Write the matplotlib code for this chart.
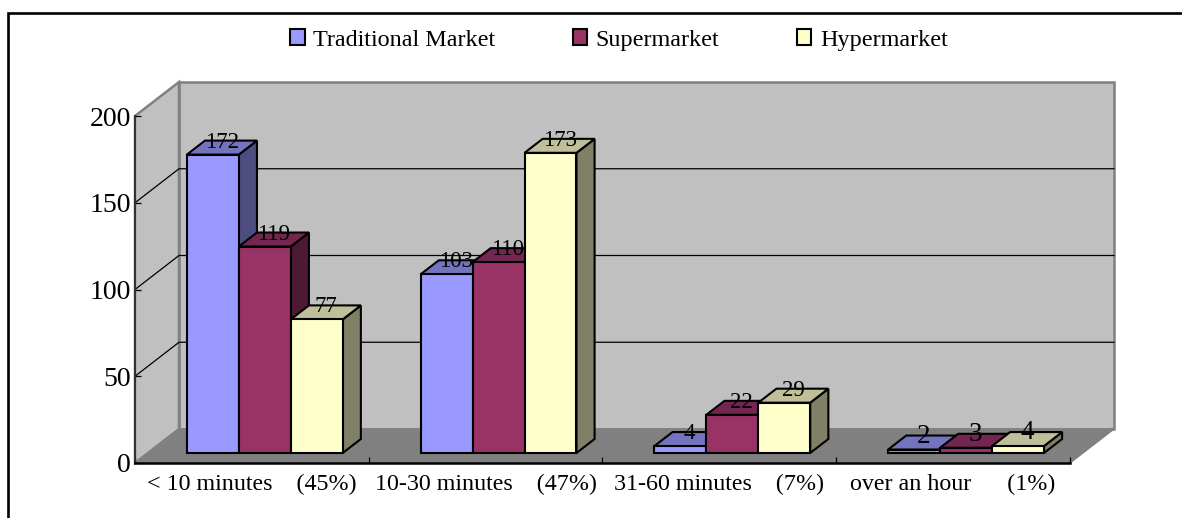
import matplotlib
matplotlib.use("Agg")
import matplotlib.pyplot as plt
from matplotlib.lines import Line2D
from matplotlib.patches import Patch, Polygon

categories = ["< 10 minutes    (45%)", "10-30 minutes    (47%)",
              "31-60 minutes    (7%)", "over an hour      (1%)"]
series_names = ["Traditional Market", "Supermarket", "Hypermarket"]
traditional = [172, 103, 4, 2]
supermarket = [119, 110, 22, 3]
hypermarket = [77, 173, 29, 4]
y_ticks = [0, 50, 100, 150, 200]

front_colors = ["#9999FF", "#993366", "#FFFFCC"]
top_colors = ["#7373BF", "#732650", "#BFBF99"]
side_colors = ["#4D4D80", "#4D1A33", "#808066"]

W, H = 1182, 518
plt.rcParams['font.family'] = ['Liberation Serif', 'DejaVu Serif']

fig = plt.figure(figsize=(W / 100, H / 100), dpi=100)
ax = fig.add_axes([135 / W, 1 - 463 / H, 935 / W, 347 / H])
ax.patch.set_visible(False)
ax.set_xlim(0, 4)
ax.set_ylim(0, 200)

# depth of the 3d box, in data units
DX = 44 / 233.75
DY = 34 / 347 * 200


def proj(x, v, d):
    return (x + d * DX, v + d * DY)


def face(pts, color, z, lw=1.5, edge='black'):
    ax.add_patch(Polygon(pts, closed=True, facecolor=color, edgecolor=edge,
                         linewidth=lw, zorder=z, clip_on=False, joinstyle='miter'))


# walls and floor
face([proj(0, 0, 1), proj(0, 200, 1), proj(4, 200, 1), proj(4, 0, 1)], "#C0C0C0", 1, lw=1.8, edge="#808080")
face([proj(0, 0, 0), proj(0, 200, 0), proj(0, 200, 1), proj(0, 0, 1)], "#C0C0C0", 1, lw=1.8, edge="#808080")
face([proj(0, 0, 0), proj(0, 0, 1), proj(4, 0, 1), proj(4, 0, 0)], "#808080", 1.5, lw=1, edge="#808080")

# gridlines run along the left wall and the back wall
for t in y_ticks[1:-1]:
    a, b, c = proj(0, t, 0), proj(0, t, 1), proj(4, t, 1)
    ax.plot([a[0], b[0], c[0]], [a[1], b[1], c[1]], color="black", lw=0.9,
            zorder=2, clip_on=False)

# bars, left to right so each front covers the side of the previous one
bar_w = 2 / 9
d0, d1 = 10 / 34, 24 / 34
series = [traditional, supermarket, hypermarket]
for i in range(len(categories)):
    for s, vals in enumerate(series):
        v = vals[i]
        x0 = i + 1 / 6 + s * bar_w
        x1 = x0 + bar_w
        z = 3 + i + s * 0.1
        face([proj(x1, 0, d0), proj(x1, v, d0), proj(x1, v, d1), proj(x1, 0, d1)], side_colors[s], z)
        face([proj(x0, v, d0), proj(x0, v, d1), proj(x1, v, d1), proj(x1, v, d0)], top_colors[s], z)
        face([proj(x0, 0, d0), proj(x0, v, d0), proj(x1, v, d0), proj(x1, 0, d0)], front_colors[s], z)
        lx, ly = proj((x0 + x1) / 2, v, 0.5)
        # the last group carries larger labels
        ax.text(lx, ly, str(v), fontsize=19.5 if i == 3 else 16.5, color="black",
                ha='center', va='baseline', zorder=20, clip_on=False)

# axes
for name in ['top', 'right']:
    ax.spines[name].set_visible(False)
ax.spines['left'].set_color("#303030")
ax.spines['left'].set_linewidth(1.4)
ax.spines['bottom'].set_linewidth(1.8)
ax.spines['left'].set_zorder(2.5)
ax.spines['bottom'].set_zorder(2.5)

ax.set_yticks(y_ticks)
ax.tick_params(axis='y', direction='in', length=4.5, width=0.9, labelsize=20, pad=3)
ax.set_xticks(range(5))
ax.set_xticklabels([])
ax.tick_params(axis='x', which='major', direction='in', length=4.5, width=0.9)
ax.set_xticks([i + 0.5 for i in range(4)], minor=True)
ax.set_xticklabels(categories, minor=True, fontsize=17.3)
ax.tick_params(axis='x', which='minor', length=0, pad=8)

# legend across the top
handles = [Patch(facecolor=c, edgecolor='black', linewidth=1.5) for c in front_colors]
fig.legend(handles, series_names, loc='center', bbox_to_anchor=(619 / W, 1 - 40 / H),
           ncol=3, frameon=False, fontsize=17.4, handlelength=0.6, handleheight=0.6,
           handletextpad=0.35, columnspacing=3.2, borderpad=0, borderaxespad=0)

# chart border, only the top and left edges fall inside the frame
bx = [8 / W, 8 / W, 1]
by = [0, 1 - 13 / H, 1 - 13 / H]
fig.add_artist(Line2D(bx, by, color="black", lw=1.9, transform=fig.transFigure,
                      solid_joinstyle='miter'))

plt.savefig("out.png", dpi=100)
